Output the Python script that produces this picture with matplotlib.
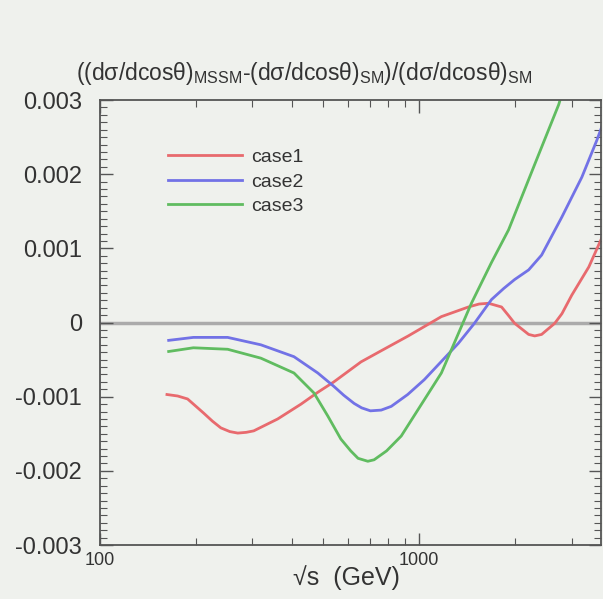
import numpy as np
import matplotlib
matplotlib.use("Agg")
import matplotlib.pyplot as plt
from matplotlib.ticker import FixedLocator, NullFormatter, AutoMinorLocator

# values
x_case1 = [162, 175, 188, 211, 225, 239, 255, 270, 287, 303, 360, 426, 481, 540, 657, 760, 924, 1173, 1426,
           1540, 1648, 1811, 1900, 1990, 2202, 2300, 2418, 2658, 2800, 3006, 3399, 3740]
y_case1 = [-0.00097, -0.00099, -0.00103, -0.00122, -0.00133, -0.00142, -0.00147, -0.00149, -0.00148, -0.00146,
           -0.0013, -0.0011, -0.00094, -0.0008, -0.00053, -0.00038, -0.00018, 0.00008, 0.00021,
           0.00025, 0.00026, 0.00021, 0.0001, -0.00001, -0.00016, -0.00018, -0.00016, -0.00001, 0.00012,
           0.00037, 0.00075, 0.00115]

x_case2 = [164, 196, 251, 319, 405, 481, 540, 580, 625, 660, 703, 760, 817, 920, 1037, 1326, 1489, 1684,
           1840, 1990, 2202, 2418, 2796, 3232, 3603, 3740]
y_case2 = [-0.00024, -0.0002, -0.0002, -0.0003, -0.00046, -0.00068, -0.00086, -0.00098, -0.00109, -0.00115,
           -0.00119, -0.00118, -0.00113, -0.00097, -0.00077, -0.00028, -0.00001, 0.00031,
           0.00046, 0.00058, 0.00071, 0.00091, 0.00142, 0.00196, 0.00246, 0.00265]

x_case3 = [164, 196, 251, 319, 405, 468, 517, 568, 610, 643, 690, 722, 790, 878, 1173, 1457, 1684, 1905,
           2299, 2736, 2850]
y_case3 = [-0.00039, -0.00034, -0.00036, -0.00048, -0.00068, -0.00095, -0.00126, -0.00157, -0.00173, -0.00183,
           -0.00187, -0.00185, -0.00173, -0.00153, -0.00068, 0.00026, 0.00081, 0.00125,
           0.00213, 0.00294, 0.0032]

labels = ["case1", "case2", "case3"]
colors = ["#e86a6e", "#7272e6", "#60bc60"]

plt.rcParams['font.family'] = ['Liberation Sans', 'DejaVu Sans']
plt.rcParams['mathtext.fontset'] = 'custom'
plt.rcParams['mathtext.rm'] = 'Liberation Sans'
plt.rcParams['mathtext.it'] = 'Liberation Sans:italic'

bg = "#eff1ed"
txt = "#333333"
fig = plt.figure(figsize=(6.03, 5.99), dpi=100, facecolor=bg)
ax = fig.add_axes([0.166, 0.09, 0.83, 0.743], facecolor=bg)

ax.axhline(0, color="#ababab", lw=2.5, zorder=1)
for xs, ys, lab, c in zip([x_case1, x_case2, x_case3], [y_case1, y_case2, y_case3], labels, colors):
    ax.plot(xs, ys, color=c, lw=2, label=lab, zorder=2, solid_joinstyle="round")

ax.set_xscale("log")
ax.set_xlim(100, 3700)
ax.set_ylim(-0.003, 0.003)

ax.xaxis.set_major_locator(FixedLocator([100, 1000]))
ax.xaxis.set_minor_locator(FixedLocator([200, 300, 400, 500, 600, 700, 800, 900, 2000, 3000]))
ax.xaxis.set_minor_formatter(NullFormatter())
ax.set_xticklabels(["100", "1000"])
ax.set_yticks([-0.003, -0.002, -0.001, 0, 0.001, 0.002, 0.003])
ax.set_yticklabels(["-0.003", "-0.002", "-0.001", "0", "0.001", "0.002", "0.003"])
ax.yaxis.set_minor_locator(AutoMinorLocator(10))

ax.tick_params(which="both", direction="in", top=True, right=True, color="#555555")
ax.tick_params(which="major", length=9, width=1)
ax.tick_params(which="minor", length=5, width=0.8)
ax.tick_params(axis="y", labelsize=17, pad=13, labelcolor=txt)
ax.tick_params(axis="x", labelsize=13, pad=5, labelcolor=txt)
for s in ax.spines.values():
    s.set_color("#555555")
    s.set_linewidth(1.3)

fig.text(0.575, 0.035, "√s  (GeV)", ha="center", va="center", fontsize=18, color=txt)
fig.text(0.505, 0.878,
         r"((dσ/dcosθ)$_{\rm MSSM}$-(dσ/dcosθ)$_{\rm SM}$)/(dσ/dcosθ)$_{\rm SM}$",
         ha="center", va="center", fontsize=16.5, color=txt)

ax.legend(loc="upper left", bbox_to_anchor=(0.1, 0.93), frameon=False, fontsize=14,
          handlelength=3.8, labelspacing=0.35, handletextpad=0.5,
          labelcolor=txt)

fig.savefig("out.png", dpi=100, facecolor=bg)
